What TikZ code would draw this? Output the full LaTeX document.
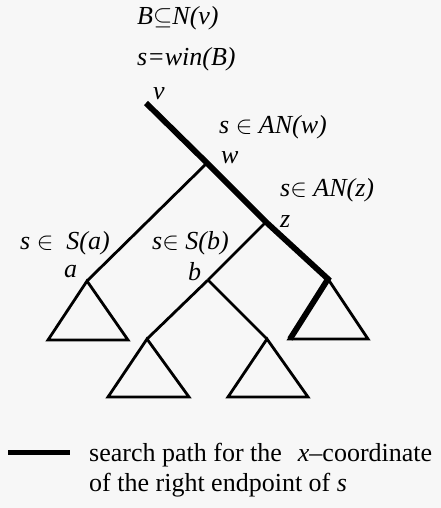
\documentclass[tikz,border=0pt]{standalone}
\usepackage{fontspec}
\setmainfont{Liberation Serif}
\begin{document}
\begin{tikzpicture}[x=1pt,y=-1pt,
  thin edge/.style={line width=2.8pt,line join=miter},
  bold edge/.style={line width=5.8pt},
  lbl/.style={anchor=west,inner sep=0pt,font=\fontsize{26}{30}\selectfont\itshape},
  legtext/.style={anchor=west,inner sep=0pt,font=\fontsize{26}{30}\selectfont}]
\useasboundingbox[fill=white!97!black] (0,0) rectangle (441,508);
% tree vertices
\coordinate (v) at (146,103);
\coordinate (w) at (207,163);
\coordinate (z) at (266,222);
\coordinate (a) at (87,281);
\coordinate (b) at (208,280);
\coordinate (r) at (328,279);
\coordinate (bl) at (147,339);
\coordinate (br) at (267,339);
% triangles
\draw[thin edge] (a) -- (48,340) -- (128,340) -- cycle;
\draw[thin edge] (bl) -- (108,397) -- (189,397) -- cycle;
\draw[thin edge] (br) -- (228,397) -- (308,397) -- cycle;
\draw[thin edge] (r) -- (289,339) -- (368,339) -- cycle;
% edges
\draw[thin edge] (w) -- (a);
\draw[thin edge] (z) -- (b);
\draw[thin edge] (b) -- (bl);
\draw[thin edge] (b) -- (br);
% search path
\draw[bold edge] (v) -- (w) -- (z) -- (r) -- (290,339);
% labels
\node[lbl] (l1) at (137,18) {B$\subseteq$N(v)};
\node[lbl] (l2) at (137,59) {s=win(B)};
\node[lbl] (lv) at (153,94) {v};
\node[lbl] (l3) at (219,127) {s $\in$ AN(w)};
\node[lbl] (lw) at (221,158) {w};
\node[lbl] (l4) at (280,190) {s$\in$ AN(z)};
\node[lbl] (lz) at (280,222) {z};
\node[lbl] (l5) at (20,243) {s $\in$ \ S(a)};
\node[lbl] (l6) at (152,243) {s$\in$ S(b)};
\node[lbl] (la) at (64,272) {a};
\node[lbl] (lb) at (188,272) {b};
% legend
\coordinate (leg1) at (8,452);
\coordinate (leg2) at (70,452);
\draw[line width=5pt] (leg1) -- (leg2);
\node[legtext] (t1) at (89,455) {search path for the\hspace{16pt}\textit{x}--coordinate};
\node[legtext] (t2) at (89,485) {of the right endpoint of \textit{s}};
\end{tikzpicture}
\end{document}
